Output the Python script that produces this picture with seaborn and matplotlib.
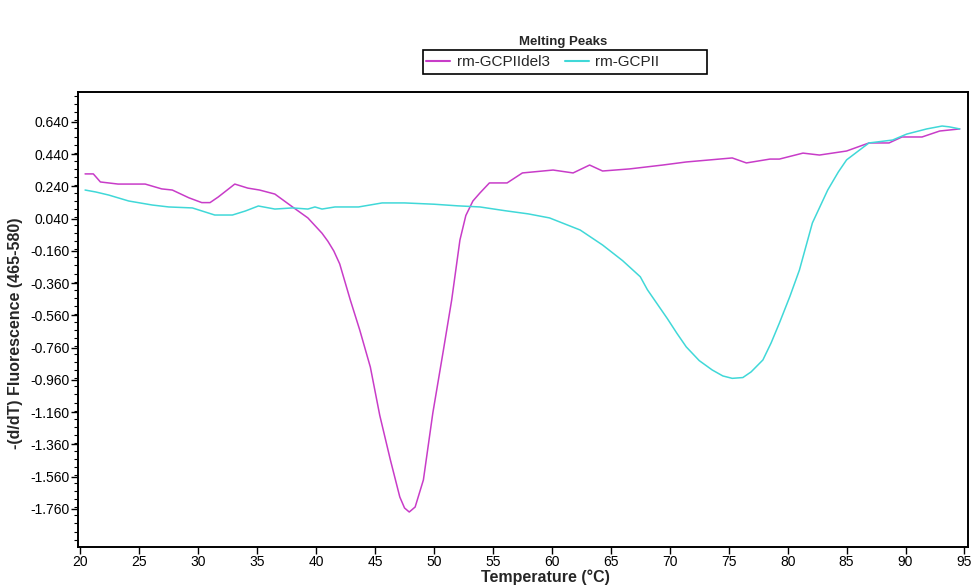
import numpy as np
import pandas as pd
import seaborn as sns
import matplotlib
matplotlib.use("Agg")
import matplotlib.pyplot as plt
from matplotlib.patches import Rectangle
from matplotlib.ticker import FixedLocator, MultipleLocator

# rm-GCPIIdel3 (magenta)
del3_temp = [20.4, 21.1, 21.7, 23.2, 25.5, 26.9, 27.8, 29.2, 30.3, 31.0,
             31.7, 33.1, 34.2, 35.2, 36.5, 38.0, 39.3, 40.5, 41.0, 41.5,
             42.0, 42.9, 43.7, 44.6, 45.4, 46.3, 47.1, 47.5, 47.9, 48.4,
             49.1, 49.9, 50.8, 51.5, 52.2, 52.7, 53.3, 53.9, 54.7, 56.2,
             57.5, 60.1, 61.8, 63.2, 64.3, 66.6, 69.4, 71.4, 75.3, 76.5,
             78.5, 79.3, 81.3, 82.7, 85.0, 86.9, 88.6, 89.7, 91.4, 92.9,
             94.6]
del3_vals = [0.318, 0.318, 0.268, 0.255, 0.255, 0.225, 0.218, 0.170, 0.140, 0.140,
             0.175, 0.255, 0.230, 0.218, 0.193, 0.113, 0.045, -0.050, -0.100, -0.160,
             -0.240, -0.464, -0.650, -0.880, -1.180, -1.456, -1.686, -1.754, -1.779, -1.748,
             -1.580, -1.165, -0.774, -0.464, -0.092, 0.060, 0.150, 0.200, 0.262, 0.262,
             0.324, 0.342, 0.324, 0.373, 0.336, 0.349, 0.373, 0.392, 0.417, 0.386,
             0.410, 0.410, 0.447, 0.435, 0.460, 0.510, 0.510, 0.547, 0.547, 0.584,
             0.597]

# rm-GCPII (cyan)
wt_temp = [20.4, 21.3, 22.4, 24.1, 26.1, 27.5, 29.5, 31.4, 32.9, 34.0,
           35.1, 36.5, 38.0, 39.3, 39.9, 40.5, 41.6, 43.6, 45.6, 47.5,
           50.0, 52.0, 53.9, 56.0, 58.0, 59.8, 62.4, 64.3, 66.0, 67.5,
           68.1, 69.8, 70.6, 71.4, 72.5, 73.6, 74.5, 75.3, 76.2, 76.9,
           77.9, 78.6, 79.3, 80.2, 81.0, 82.1, 83.4, 84.3, 85.0, 86.1,
           86.9, 88.9, 90.1, 91.8, 93.1, 93.7, 94.6]
wt_vals = [0.218, 0.206, 0.187, 0.150, 0.125, 0.113, 0.107, 0.063, 0.063, 0.088,
           0.119, 0.100, 0.107, 0.100, 0.113, 0.100, 0.113, 0.113, 0.138, 0.138,
           0.130, 0.120, 0.113, 0.090, 0.070, 0.045, -0.030, -0.123, -0.220, -0.320,
           -0.400, -0.580, -0.670, -0.755, -0.840, -0.898, -0.935, -0.950, -0.945, -0.910,
           -0.836, -0.730, -0.607, -0.440, -0.278, 0.014, 0.218, 0.330, 0.405, 0.466,
           0.510, 0.528, 0.565, 0.597, 0.615, 0.610, 0.597]

series_names = ["rm-GCPIIdel3", "rm-GCPII"]
series_colors = ["#C83CC8", "#40D8D8"]

x_ticks = [20, 25, 30, 35, 40, 45, 50, 55, 60, 65, 70, 75, 80, 85, 90, 95]
y_ticks = [0.640, 0.440, 0.240, 0.040, -0.160, -0.360, -0.560, -0.760,
           -0.960, -1.160, -1.360, -1.560, -1.760]

df = pd.concat([
    pd.DataFrame({"temp": del3_temp, "value": del3_vals, "sample": series_names[0]}),
    pd.DataFrame({"temp": wt_temp, "value": wt_vals, "sample": series_names[1]}),
])

sns.set_theme(style="white")
plt.rcParams["font.family"] = ["Liberation Sans Narrow", "Liberation Sans", "DejaVu Sans"]

fig = plt.figure(figsize=(9.73, 5.88), dpi=100)
ax = fig.add_axes([78 / 973, 1 - 547 / 588, 890 / 973, 455 / 588])

sns.lineplot(data=df, x="temp", y="value", hue="sample", palette=series_colors,
             hue_order=series_names, sort=False, linewidth=1.1, ax=ax, legend=False)

ax.set_xlim(19.8, 95.3)
ax.set_ylim(-1.996, 0.826)
ax.xaxis.set_major_locator(FixedLocator(x_ticks))
ax.set_xticklabels([str(t) for t in x_ticks])
ax.yaxis.set_major_locator(FixedLocator(y_ticks))
ax.set_yticklabels([f"{t:.3f}" for t in y_ticks])
ax.yaxis.set_minor_locator(MultipleLocator(0.05))
ax.tick_params(axis="both", which="major", direction="out", length=5, width=1,
               color="black", labelsize=10, labelcolor="black", pad=1,
               left=True, bottom=True)
ax.tick_params(axis="y", which="minor", direction="out", length=3, width=0.8,
               color="black", left=True)
for side in ax.spines.values():
    side.set_color("black")
    side.set_linewidth(1.4)
ax.set_xlabel("")
ax.set_ylabel("")

fig.text(563 / 973, 1 - 42 / 588, "Melting Peaks", ha="center", va="center",
         fontsize=9.5, fontweight="bold")
fig.text(545 / 973, 1 - 577 / 588, "Temperature (\u00b0C)", ha="center", va="center",
         fontsize=11.5, fontweight="bold")
fig.text(16 / 973, 1 - 333 / 588, "-(d/dT) Fluorescence (465-580)", ha="center",
         va="center", rotation=90, fontsize=11.5, fontweight="bold")

# legend: entries without frame, plus a fixed-size box around them
handles = [plt.Line2D([], [], color=c, lw=1.5) for c in series_colors]
leg = fig.legend(handles, series_names, loc="center left", ncol=2,
                 bbox_to_anchor=(426 / 973, 1 - 62 / 588), fontsize=11,
                 frameon=False, handlelength=1.6, handletextpad=0.4,
                 columnspacing=1.0, borderpad=0.0, borderaxespad=0.0)
fig.patches.append(Rectangle((423 / 973, 1 - 74 / 588), 284 / 973, 24 / 588,
                             transform=fig.transFigure, fill=False,
                             edgecolor="black", linewidth=1.2))

fig.savefig("out.png", dpi=100)
